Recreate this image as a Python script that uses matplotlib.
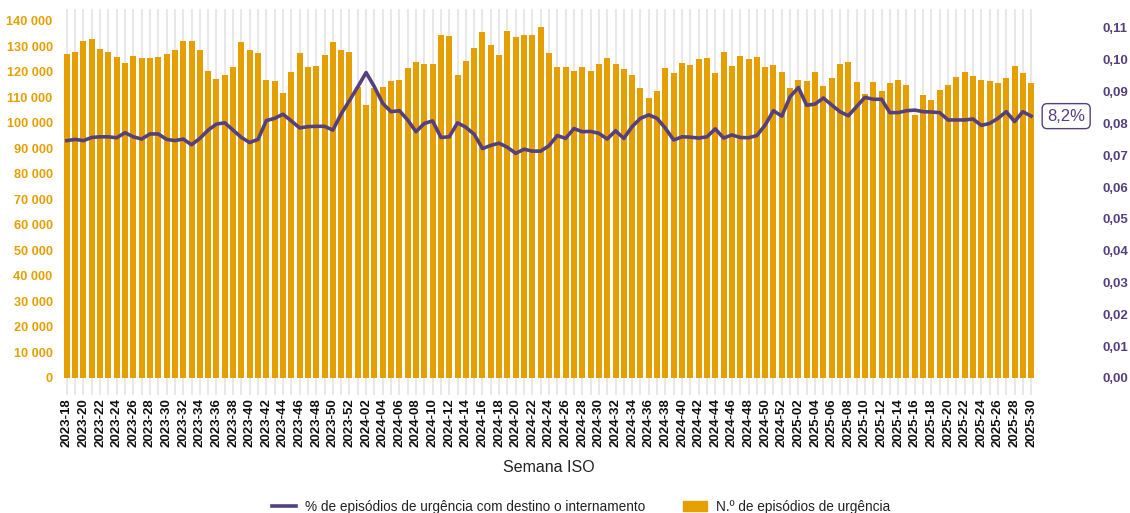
import matplotlib
matplotlib.use("Agg")
import matplotlib.pyplot as plt
import numpy as np
from matplotlib.lines import Line2D
from matplotlib.patches import Patch
from matplotlib.ticker import FuncFormatter

plt.rcParams['font.family'] = ['Liberation Sans', 'DejaVu Sans']

# semanas ISO 2023-18 .. 2025-30
weeks = ([f"2023-{w:02d}" for w in range(18, 53)] +
         [f"2024-{w:02d}" for w in range(1, 53)] +
         [f"2025-{w:02d}" for w in range(1, 31)])

# N.º de episódios de urgência
episodios = [
    127100, 128000, 132200, 132800, 128900, 128000, 126000, 123500, 126300, 125400,
    125400, 125900, 127100, 128600, 132200, 132200, 128600, 120400, 117100, 118800,
    122100, 131800, 128600, 127500, 117000, 116300, 111600, 119800, 127300, 122100,
    122500, 126800, 131800, 128600, 127700, 114200, 107000, 113800, 114200, 116300,
    116900, 121400, 124000, 123300, 123300, 134600, 134100, 118900, 124200, 129300,
    135500, 130700, 126800, 135900, 133800, 134500, 134500, 137600, 127300, 121800,
    122100, 120400, 122100, 120400, 123300, 125400, 123300, 121200, 118800, 113700,
    109800, 112400, 121400, 119600, 123500, 122900, 125200, 125600, 119700, 127800,
    122500, 126300, 125200, 125900, 121800, 122700, 120100, 113600, 116700, 116300,
    119800, 114600, 117500, 123000, 123900, 116100, 111200, 116100, 112400, 115700,
    117000, 114900, 103000, 110800, 108900, 112900, 114900, 118000, 119800, 118300,
    116900, 116300, 115700, 117800, 122200, 119600, 115500,
]

# proporção de episódios com destino o internamento
internamento = [
    0.0746, 0.0750, 0.0746, 0.0756, 0.0758, 0.0758, 0.0755, 0.0771, 0.0758, 0.0751,
    0.0767, 0.0767, 0.0750, 0.0746, 0.0751, 0.0733, 0.0753, 0.0779, 0.0798, 0.0802,
    0.0779, 0.0756, 0.0740, 0.0750, 0.0809, 0.0816, 0.0829, 0.0808, 0.0786, 0.0790,
    0.0791, 0.0791, 0.0779, 0.0830, 0.0872, 0.0915, 0.0960, 0.0915, 0.0863, 0.0837,
    0.0840, 0.0811, 0.0774, 0.0800, 0.0808, 0.0756, 0.0758, 0.0802, 0.0788, 0.0766,
    0.0721, 0.0731, 0.0738, 0.0725, 0.0706, 0.0719, 0.0713, 0.0713, 0.0730, 0.0762,
    0.0753, 0.0784, 0.0774, 0.0775, 0.0769, 0.0751, 0.0777, 0.0753, 0.0790, 0.0816,
    0.0827, 0.0816, 0.0785, 0.0748, 0.0758, 0.0757, 0.0754, 0.0758, 0.0783, 0.0754,
    0.0764, 0.0756, 0.0755, 0.0762, 0.0795, 0.0840, 0.0823, 0.0884, 0.0913, 0.0857,
    0.0861, 0.0880, 0.0858, 0.0837, 0.0824, 0.0853, 0.0882, 0.0876, 0.0876, 0.0834,
    0.0834, 0.0840, 0.0842, 0.0837, 0.0836, 0.0834, 0.0811, 0.0811, 0.0811, 0.0814,
    0.0794, 0.0800, 0.0816, 0.0837, 0.0806, 0.0837, 0.0823,
]

orange = '#E69F00'
purple = '#55407E'
grid_c = '#E8E8E8'

fig = plt.figure(figsize=(11.3, 5.13), dpi=100)
ax = fig.add_axes([61 / 1130, 1 - 378 / 513, (1037 - 61) / 1130, (378 - 9) / 513])
x = np.arange(len(weeks))

ax.bar(x, episodios, width=0.72, color=orange, zorder=2)
ax.set_xlim(-0.7, len(weeks) - 0.3)
ax.set_ylim(0, 144700)
ax.set_yticks(np.arange(0, 140001, 10000))
ax.yaxis.set_major_formatter(FuncFormatter(lambda v, p: f"{int(v):,}".replace(',', ' ')))
ax.tick_params(axis='y', length=0, pad=6, labelcolor=orange, labelsize=9.2)
for lab in ax.get_yticklabels():
    lab.set_fontweight('bold')

ax.set_xticks(x)
ax.set_xticklabels([w if i % 2 == 0 else '' for i, w in enumerate(weeks)],
                   rotation=90, fontsize=9.5, fontweight='bold', color='#111111')
ax.tick_params(axis='x', length=12.5, width=1.5, color=grid_c, pad=2)
ax.grid(axis='x', color=grid_c, linewidth=1.5, zorder=0)
ax.set_axisbelow(True)
ax.set_xlabel('Semana ISO', fontsize=11.5, color='#222222', labelpad=9)
for s in ax.spines.values():
    s.set_visible(False)

ax2 = ax.twinx()
ax2.plot(x, internamento, color=purple, linewidth=2.6, zorder=3)
ax2.set_ylim(0, 0.11597)
ax2.set_yticks(np.arange(0, 0.111, 0.01))
ax2.yaxis.set_major_formatter(FuncFormatter(lambda v, p: f"{v:.2f}".replace('.', ',')))
ax2.tick_params(axis='y', length=0, pad=47, labelcolor=purple, labelsize=9.5)
for lab in ax2.get_yticklabels():
    lab.set_fontweight('bold')
for s in ax2.spines.values():
    s.set_visible(False)

last = internamento[-1]
ax2.annotate(f"{last * 100:.1f}%".replace('.', ','), xy=(x[-1], last),
             xytext=(35, 0), textcoords='offset pixels', ha='center', va='center',
             fontsize=12, color=purple,
             bbox=dict(boxstyle='round,pad=0.3', fc='white', ec=purple, lw=1))

handles = [Line2D([0], [0], color=purple, lw=2.6),
           Patch(color=orange)]
labels = ['% de episódios de urgência com destino o internamento',
          'N.º de episódios de urgência']
fig.legend(handles, labels, loc='center', bbox_to_anchor=(0.514, 1 - 507 / 513),
           ncol=2, frameon=False, fontsize=9.8, handlelength=1.8,
           columnspacing=2.8, handletextpad=0.6, labelcolor='#222222')

fig.savefig('out.png', dpi=100)
